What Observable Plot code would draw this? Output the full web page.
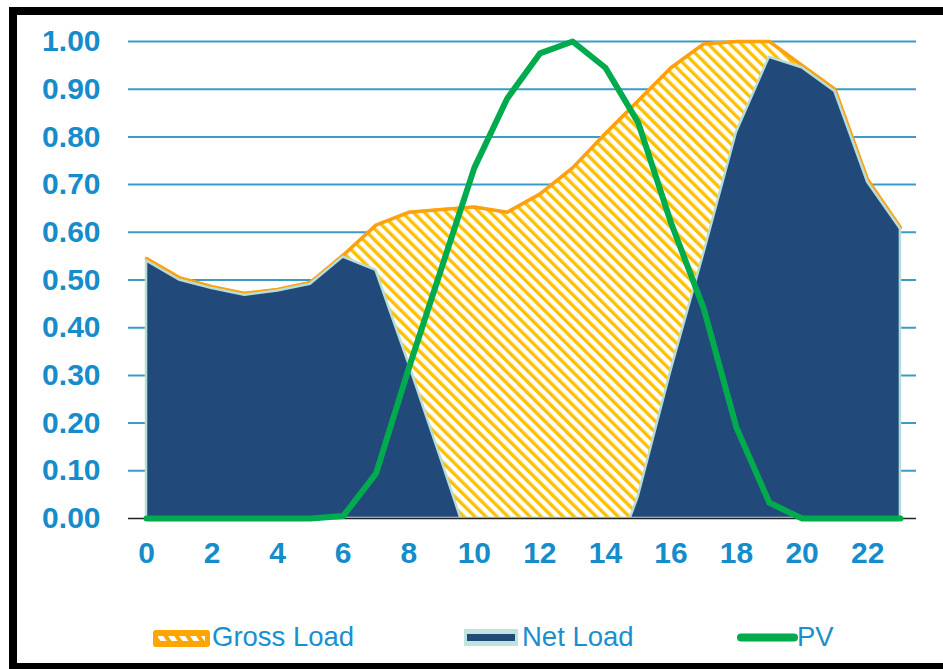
<!DOCTYPE html>
<html>
<head>
<meta charset="utf-8">
<script src="https://cdn.jsdelivr.net/npm/d3@7"></script>
<script src="https://cdn.jsdelivr.net/npm/@observablehq/plot@0.6"></script>
<style>
html, body { margin: 0; padding: 0; background: #fff; overflow: hidden; width: 943px; height: 669px; }
#wrap { position: relative; width: 943px; height: 669px; overflow: hidden; }
#chart { position: absolute; left: 0; top: 0; }
#legend { position: absolute; left: 0; top: 600px; }
#frame { position: absolute; left: 9px; top: 7px; width: 980px; height: 664px; box-sizing: border-box;
  border-left: 8px solid #000; border-top: 8px solid #000; border-bottom: 8px solid #000; pointer-events: none; }
</style>
</head>
<body>
<div id="wrap">
  <div id="chart"></div>
  <svg id="legend" width="943" height="69"></svg>
  <div id="frame"></div>
</div>
<script>
// ---- data ----
const hours = [0, 1, 2, 3, 4, 5, 6, 7, 8, 9, 10, 11, 12, 13, 14, 15, 16, 17, 18, 19, 20, 21, 22, 23];
const grossLoad = [0.545, 0.505, 0.486, 0.472, 0.480, 0.495, 0.552, 0.615, 0.642, 0.648, 0.653, 0.642,
                   0.680, 0.735, 0.807, 0.876, 0.945, 0.995, 1.000, 1.000, 0.950, 0.900, 0.710, 0.610];
const netLoad   = [0.540, 0.500, 0.482, 0.468, 0.477, 0.491, 0.548, 0.520, 0.325, 0.122, -0.085, -0.240,
                   -0.295, -0.265, -0.140, 0.045, 0.310, 0.555, 0.810, 0.967, 0.945, 0.895, 0.705, 0.607];
const pv        = [0, 0, 0, 0, 0, 0, 0.005, 0.094, 0.315, 0.525, 0.735, 0.880,
                   0.975, 1.000, 0.945, 0.830, 0.620, 0.440, 0.190, 0.033, 0, 0, 0, 0];
const xTicks = [0, 2, 4, 6, 8, 10, 12, 14, 16, 18, 20, 22];
const yTicks = [0, 0.1, 0.2, 0.3, 0.4, 0.5, 0.6, 0.7, 0.8, 0.9, 1.0];
const seriesNames = ["Gross Load", "Net Load", "PV"];

const rows = hours.map((h, i) => ({hour: h, gross: grossLoad[i], net: netLoad[i], pv: pv[i]}));

const blue = "#168ccb";
const chart = Plot.plot({
  width: 943,
  height: 600,
  marginLeft: 128,
  marginRight: 27,
  marginTop: 41,
  marginBottom: 82,
  style: {
    fontFamily: "'Liberation Sans', Arial, sans-serif",
    fontSize: "30px",
    fontWeight: "bold",
    color: blue,
    background: "transparent",
    overflow: "visible"
  },
  x: {domain: [-0.55, 23.49], ticks: xTicks, tickSize: 0, tickPadding: 23, label: null, tickFormat: d => String(d)},
  y: {domain: [0, 1], ticks: yTicks, tickSize: 0, tickPadding: 28, label: null, tickFormat: d3.format(".2f")},
  marks: [
    Plot.ruleY(yTicks.filter(d => d > 0), {stroke: "#3a9cc6", strokeWidth: 2}),
    Plot.areaY(rows, {x: "hour", y: "gross", fill: "url(#hatch)", stroke: "#f2d48a", strokeWidth: 2}),
    Plot.lineY(rows, {x: "hour", y: "gross", stroke: "#ffa00f", strokeWidth: 3.5, strokeLinejoin: "round"}),
    Plot.areaY(rows, {x: "hour", y: "net", fill: "#21497a", stroke: "#b8ddd7", strokeWidth: 2.5, clip: true}),
    Plot.ruleY([0], {stroke: "#222", strokeWidth: 1.5}),
    Plot.lineY(rows, {x: "hour", y: "pv", stroke: "#00ab4e", strokeWidth: 6, strokeLinejoin: "round"})
  ]
});

const ns = "http://www.w3.org/2000/svg";
const svgEl = chart.tagName.toLowerCase() === "svg" ? chart : chart.querySelector("svg");
const defs = document.createElementNS(ns, "defs");
defs.innerHTML =
  '<pattern id="hatch" patternUnits="userSpaceOnUse" width="7.8" height="7.8" patternTransform="rotate(-45)">' +
  '<rect width="7.8" height="7.8" fill="#fff"/><rect width="3.4" height="7.8" fill="#ffc000"/></pattern>';
svgEl.insertBefore(defs, svgEl.firstChild);
document.getElementById("chart").appendChild(chart);

// ---- legend ----
const leg = document.getElementById("legend");
leg.innerHTML =
  '<defs><pattern id="hatchSm" patternUnits="userSpaceOnUse" width="9" height="9" patternTransform="rotate(-35)">' +
  '<rect width="9" height="9" fill="#ffa500"/><rect width="5" height="9" fill="#fff"/></pattern></defs>' +
  // Gross Load swatch
  '<rect x="153" y="30" width="57" height="17" rx="3" fill="#ffa500"/>' +
  '<rect x="158" y="36" width="47" height="5" fill="url(#hatchSm)"/>' +
  // Net Load swatch
  '<rect x="464" y="29" width="54" height="17" fill="#c0e4dd"/>' +
  '<rect x="467" y="34" width="48" height="7" fill="#21497a"/>' +
  // PV swatch
  '<line x1="741" y1="37.5" x2="794" y2="37.5" stroke="#00ab4e" stroke-width="8" stroke-linecap="round"/>';
const textX = [212, 522, 797];
seriesNames.forEach((name, i) => {
  const t = document.createElementNS(ns, "text");
  t.setAttribute("x", textX[i]);
  t.setAttribute("y", 46);
  t.setAttribute("fill", "#1a8fd0");
  t.setAttribute("font-family", "'Liberation Sans', Arial, sans-serif");
  t.setAttribute("font-size", "27.5");
  t.textContent = name;
  leg.appendChild(t);
});
</script>
</body>
</html>
